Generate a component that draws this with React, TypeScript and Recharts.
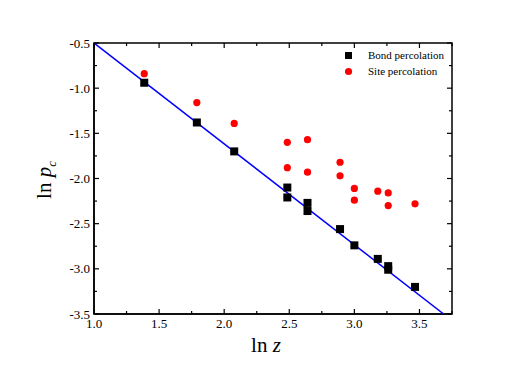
import React from 'react';
import { ComposedChart, Scatter, XAxis, YAxis } from 'recharts';

// ln z values (bond and site measured at the same lattices)
const bondX = [1.386, 1.79, 2.077, 2.485, 2.485, 2.64, 2.64, 2.89, 3.0, 3.18, 3.26, 3.26, 3.466];
const bondY = [-0.94, -1.38, -1.70, -2.10, -2.21, -2.27, -2.36, -2.56, -2.74, -2.89, -2.97, -3.01, -3.20];

const siteX = [1.386, 1.79, 2.077, 2.485, 2.485, 2.64, 2.64, 2.89, 2.89, 3.0, 3.0, 3.18, 3.26, 3.26, 3.466];
const siteY = [-0.84, -1.16, -1.39, -1.60, -1.88, -1.57, -1.93, -1.82, -1.97, -2.11, -2.24, -2.14, -2.16, -2.30, -2.28];

// linear fit end points
const fitX = [1.0, 3.686];
const fitY = [-0.5, -3.5];

const xTicks = [1.0, 1.25, 1.5, 1.75, 2.0, 2.25, 2.5, 2.75, 3.0, 3.25, 3.5, 3.75];
const yTicks = [-3.5, -3.25, -3.0, -2.75, -2.5, -2.25, -2.0, -1.75, -1.5, -1.25, -1.0, -0.75, -0.5];

const bond = bondX.map((x, i) => ({ x, y: bondY[i] }));
const site = siteX.map((x, i) => ({ x, y: siteY[i] }));
const fit = fitX.map((x, i) => ({ x, y: fitY[i] }));

const FONT = "'Liberation Serif', 'Times New Roman', serif";
const txt = { fontFamily: FONT };

// plot box
const W = 526;
const H = 372;
const M = { top: 43, right: 74, bottom: 28, left: 34 };
const Y_AXIS_W = 60;
const X_AXIS_H = 30;
const PLOT_W = W - M.left - Y_AXIS_W - M.right;
const PLOT_H = H - M.top - M.bottom - X_AXIS_H;

const isMajor = (v: number) => Math.abs(v * 2 - Math.round(v * 2)) < 1e-6;

const BottomTick = (props: any) => {
  const { x, y, payload } = props;
  const len = isMajor(payload.value) ? 5 : 3;
  return (
    <g>
      <line x1={x} x2={x} y1={y} y2={y - len} stroke="#000" strokeWidth={1.2} />
      <line x1={x} x2={x} y1={y - PLOT_H} y2={y - PLOT_H + len} stroke="#000" strokeWidth={1.2} />
      {isMajor(payload.value) && (
        <text x={x} y={y + 14} textAnchor="middle" fontSize={13} style={txt} fill="#000">
          {payload.value.toFixed(1)}
        </text>
      )}
    </g>
  );
};

const LeftTick = (props: any) => {
  const { x, y, payload } = props;
  const len = isMajor(payload.value) ? 5 : 3;
  return (
    <g>
      <line x1={x} x2={x + len} y1={y} y2={y} stroke="#000" strokeWidth={1.2} />
      <line x1={x + PLOT_W} x2={x + PLOT_W - len} y1={y} y2={y} stroke="#000" strokeWidth={1.2} />
      {isMajor(payload.value) && (
        <text x={x - 4} y={y + 4.5} textAnchor="end" fontSize={13} style={txt} fill="#000">
          {payload.value.toFixed(1)}
        </text>
      )}
    </g>
  );
};

const SquareShape = (p: any) => <rect x={p.cx - 4} y={p.cy - 4} width={8} height={8} fill="#000" />;
const CircleShape = (p: any) => <circle cx={p.cx} cy={p.cy} r={3.6} fill="#ff0000" />;
const NoShape = () => <g />;

const XTitle = () => (
  <g>
    <rect
      x={M.left + Y_AXIS_W}
      y={M.top}
      width={PLOT_W}
      height={PLOT_H}
      fill="none"
      stroke="#000"
      strokeWidth={1.5}
    />
    <text x={266} y={352} textAnchor="middle" fontSize={21} style={txt} fill="#000">
      ln <tspan fontStyle="italic">z</tspan>
    </text>
  </g>
);

const YTitle = () => (
  <text
    x={0}
    y={0}
    transform="translate(51, 180) rotate(-90)"
    textAnchor="middle"
    fontSize={21}
    style={txt}
    fill="#000"
  >
    ln <tspan fontStyle="italic">p</tspan>
    <tspan fontSize={13} fontStyle="italic" dy={5}>c</tspan>
  </text>
);

const LegendBox = () => (
  <svg
    width={110}
    height={36}
    style={{ position: 'absolute', left: 345, top: 48, display: 'block' }}
  >
    <rect x={0} y={4} width={7} height={7} fill="#000" />
    <text x={23} y={11} fontSize={11} style={txt} fill="#000">Bond percolation</text>
    <circle cx={3.5} cy={23.5} r={3.6} fill="#ff0000" />
    <text x={23} y={27} fontSize={11} style={txt} fill="#000">Site percolation</text>
  </svg>
);

export default function App() {
  return (
    <div style={{ position: 'absolute', left: 0, top: 0, width: W, height: H, background: '#fff', fontFamily: FONT }}>
      <ComposedChart width={W} height={H} margin={M}>
        <XAxis
          type="number"
          dataKey="x"
          domain={[1, 3.75]}
          ticks={xTicks}
          allowDataOverflow
          height={X_AXIS_H}
          tickSize={0}
          tickMargin={0}
          tickLine={false}
          interval={0}
          tick={<BottomTick />}
          axisLine={{ stroke: '#000', strokeWidth: 1.5 }}
          label={{ content: () => <XTitle /> }}
        />
        <YAxis
          type="number"
          dataKey="y"
          domain={[-3.5, -0.5]}
          ticks={yTicks}
          allowDataOverflow
          width={Y_AXIS_W}
          tickSize={0}
          tickMargin={0}
          tickLine={false}
          interval={0}
          tick={<LeftTick />}
          axisLine={{ stroke: '#000', strokeWidth: 1.5 }}
          label={{ content: () => <YTitle /> }}
        />
        <Scatter
          name="fit"
          data={fit}
          line={{ stroke: '#0000ff', strokeWidth: 1.5 }}
          shape={<NoShape />}
          isAnimationActive={false}
        />
        <Scatter name="Bond percolation" data={bond} shape={<SquareShape />} isAnimationActive={false} />
        <Scatter name="Site percolation" data={site} shape={<CircleShape />} isAnimationActive={false} />
      </ComposedChart>
      <LegendBox />
    </div>
  );
}
